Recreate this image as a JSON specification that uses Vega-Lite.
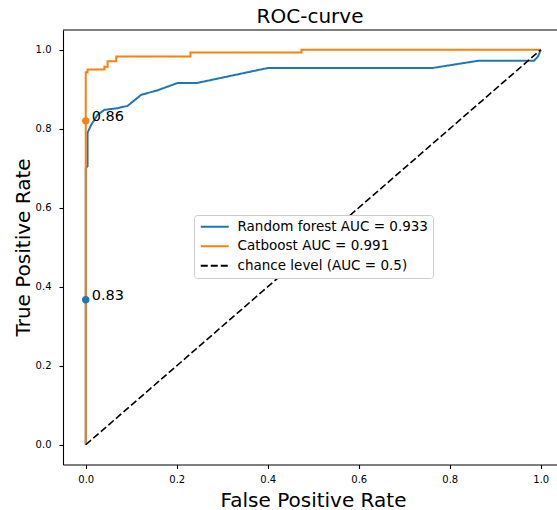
{
  "$schema": "https://vega.github.io/schema/vega-lite/v6.json",
  "width": 494,
  "height": 434.5,
  "autosize": {"type": "none"},
  "padding": {"left": 63, "top": 30, "right": 0, "bottom": 45.5},
  "background": "white",
  "title": {"text": "ROC-curve", "fontSize": 20, "font": "DejaVu Sans", "fontWeight": "normal", "color": "black", "offset": 2},
  "config": {
    "font": "DejaVu Sans",
    "view": {"stroke": null},
    "axis": {"grid": false, "domainColor": "black", "domainWidth": 1.1, "tickColor": "black", "tickWidth": 1.1, "tickSize": 4, "labelFontSize": 10, "labelColor": "black", "labelFont": "DejaVu Sans", "titleFont": "DejaVu Sans", "titleFontSize": 20, "titleFontWeight": "normal", "titleColor": "black"}
  },
  "datasets": {
    "rf": [
      {"fpr": 0, "tpr": 0, "series": "Random forest AUC = 0.933"},
      {"fpr": 0, "tpr": 0.70, "series": "Random forest AUC = 0.933"},
      {"fpr": 0.004, "tpr": 0.705, "series": "Random forest AUC = 0.933"},
      {"fpr": 0.004, "tpr": 0.79, "series": "Random forest AUC = 0.933"},
      {"fpr": 0.012, "tpr": 0.81, "series": "Random forest AUC = 0.933"},
      {"fpr": 0.026, "tpr": 0.835, "series": "Random forest AUC = 0.933"},
      {"fpr": 0.041, "tpr": 0.848, "series": "Random forest AUC = 0.933"},
      {"fpr": 0.07, "tpr": 0.852, "series": "Random forest AUC = 0.933"},
      {"fpr": 0.092, "tpr": 0.858, "series": "Random forest AUC = 0.933"},
      {"fpr": 0.122, "tpr": 0.886, "series": "Random forest AUC = 0.933"},
      {"fpr": 0.157, "tpr": 0.897, "series": "Random forest AUC = 0.933"},
      {"fpr": 0.202, "tpr": 0.916, "series": "Random forest AUC = 0.933"},
      {"fpr": 0.245, "tpr": 0.916, "series": "Random forest AUC = 0.933"},
      {"fpr": 0.401, "tpr": 0.954, "series": "Random forest AUC = 0.933"},
      {"fpr": 0.763, "tpr": 0.954, "series": "Random forest AUC = 0.933"},
      {"fpr": 0.862, "tpr": 0.972, "series": "Random forest AUC = 0.933"},
      {"fpr": 0.985, "tpr": 0.972, "series": "Random forest AUC = 0.933"},
      {"fpr": 0.994, "tpr": 0.983, "series": "Random forest AUC = 0.933"},
      {"fpr": 1, "tpr": 1, "series": "Random forest AUC = 0.933"}
    ],
    "cb": [
      {"fpr": 0, "tpr": 0, "series": "Catboost AUC = 0.991"},
      {"fpr": 0, "tpr": 0.943, "series": "Catboost AUC = 0.991"},
      {"fpr": 0.004, "tpr": 0.943, "series": "Catboost AUC = 0.991"},
      {"fpr": 0.004, "tpr": 0.95, "series": "Catboost AUC = 0.991"},
      {"fpr": 0.041, "tpr": 0.95, "series": "Catboost AUC = 0.991"},
      {"fpr": 0.041, "tpr": 0.957, "series": "Catboost AUC = 0.991"},
      {"fpr": 0.048, "tpr": 0.957, "series": "Catboost AUC = 0.991"},
      {"fpr": 0.048, "tpr": 0.971, "series": "Catboost AUC = 0.991"},
      {"fpr": 0.067, "tpr": 0.971, "series": "Catboost AUC = 0.991"},
      {"fpr": 0.067, "tpr": 0.983, "series": "Catboost AUC = 0.991"},
      {"fpr": 0.23, "tpr": 0.983, "series": "Catboost AUC = 0.991"},
      {"fpr": 0.23, "tpr": 0.993, "series": "Catboost AUC = 0.991"},
      {"fpr": 0.474, "tpr": 0.993, "series": "Catboost AUC = 0.991"},
      {"fpr": 0.474, "tpr": 1.0, "series": "Catboost AUC = 0.991"},
      {"fpr": 1, "tpr": 1.0, "series": "Catboost AUC = 0.991"}
    ],
    "chance": [
      {"fpr": 0, "tpr": 0, "series": "chance level (AUC = 0.5)"},
      {"fpr": 1, "tpr": 1, "series": "chance level (AUC = 0.5)"}
    ],
    "pts": [
      {"fpr": 0, "tpr": 0.367, "label": "0.83", "model": "rf"},
      {"fpr": 0, "tpr": 0.82, "label": "0.86", "model": "cb"}
    ]
  },
  "layer": [
    {
      "data": {"values": [{"top": 1.05}]},
      "mark": {"type": "rule", "color": "black", "strokeWidth": 1.1},
      "encoding": {
        "y": {"field": "top", "type": "quantitative"}
      }
    },
    {
      "data": {"name": "rf"},
      "mark": {"type": "line", "strokeWidth": 2, "clip": false},
      "encoding": {
        "x": {"field": "fpr", "type": "quantitative", "scale": {"domain": [-0.05, 1.0357], "nice": false, "zero": false},
          "axis": {"title": "False Positive Rate", "values": [0, 0.2, 0.4, 0.6, 0.8, 1.0], "format": ".1f", "labelPadding": 6, "titleBaseline": "alphabetic", "titleX": 250, "titleY": 42, "titleAnchor": null}},
        "y": {"field": "tpr", "type": "quantitative", "scale": {"domain": [-0.05, 1.05], "nice": false, "zero": false},
          "axis": {"title": "True Positive Rate", "values": [0, 0.2, 0.4, 0.6, 0.8, 1.0], "format": ".1f", "labelPadding": 8, "titleBaseline": "alphabetic", "titleX": -34, "titleY": 217, "titleAngle": 270}},
        "order": {"field": "fpr"},
        "color": {"field": "series", "type": "nominal",
          "scale": {"domain": ["Random forest AUC = 0.933", "Catboost AUC = 0.991", "chance level (AUC = 0.5)"], "range": ["#1f77b4", "#ff7f0e", "#000000"]},
          "legend": {"title": null, "orient": "none", "legendX": 131, "legendY": 185, "fillColor": "white", "strokeColor": "#cccccc", "cornerRadius": 3, "padding": 5, "labelFontSize": 13.5, "labelColor": "black", "labelFont": "DejaVu Sans", "symbolType": "M-1,0H4.6", "symbolSize": 100, "symbolStrokeWidth": 2, "labelOffset": 25, "rowPadding": 4.5, "labelLimit": 400}},
        "strokeDash": {"field": "series", "type": "nominal",
          "scale": {"domain": ["Random forest AUC = 0.933", "Catboost AUC = 0.991", "chance level (AUC = 0.5)"], "range": [[1, 0], [1, 0], [7, 3]]},
          "legend": {"title": null}}
      }
    },
    {
      "data": {"name": "cb"},
      "mark": {"type": "line", "strokeWidth": 2, "clip": false},
      "encoding": {
        "x": {"field": "fpr", "type": "quantitative"},
        "y": {"field": "tpr", "type": "quantitative"},
        "order": {"field": "tpr"},
        "color": {"field": "series", "type": "nominal"},
        "strokeDash": {"field": "series", "type": "nominal"}
      }
    },
    {
      "data": {"name": "chance"},
      "mark": {"type": "line", "strokeWidth": 1.6, "clip": false},
      "encoding": {
        "x": {"field": "fpr", "type": "quantitative"},
        "y": {"field": "tpr", "type": "quantitative"},
        "color": {"field": "series", "type": "nominal"},
        "strokeDash": {"field": "series", "type": "nominal"}
      }
    },
    {
      "data": {"name": "pts"},
      "mark": {"type": "point", "filled": true, "opacity": 1, "size": 55},
      "encoding": {
        "x": {"field": "fpr", "type": "quantitative"},
        "y": {"field": "tpr", "type": "quantitative"},
        "fill": {"field": "model", "type": "nominal", "scale": {"domain": ["rf", "cb"], "range": ["#1f77b4", "#ff7f0e"]}, "legend": null}
      }
    },
    {
      "data": {"name": "pts"},
      "mark": {"type": "text", "align": "left", "baseline": "alphabetic", "dx": 6, "fontSize": 14.5, "font": "DejaVu Sans", "color": "black"},
      "encoding": {
        "x": {"field": "fpr", "type": "quantitative"},
        "y": {"field": "tpr", "type": "quantitative"},
        "text": {"field": "label"}
      }
    }
  ]
}
